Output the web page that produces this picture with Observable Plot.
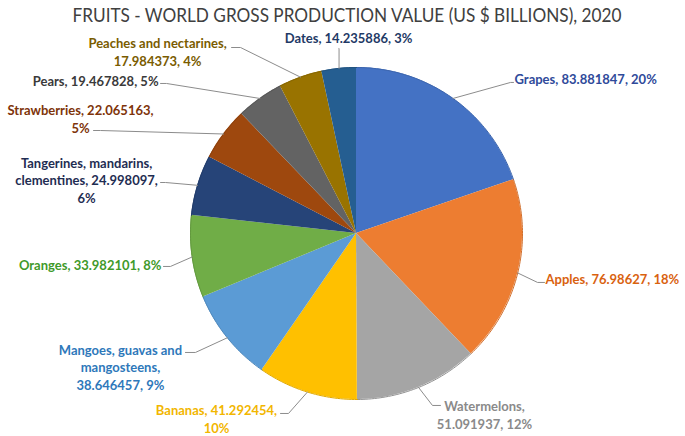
<!DOCTYPE html>
<html><head><meta charset="utf-8">
<script src="https://cdn.jsdelivr.net/npm/d3@7"></script>
<script src="https://cdn.jsdelivr.net/npm/@observablehq/plot@0.6"></script>
<style>
body{margin:0;background:#fff;width:685px;height:436px;overflow:hidden;}
#title{height:30px;width:685px;position:relative;}
#title span{position:absolute;left:347px;top:14px;transform:translate(-50%,-50%) scaleX(0.905);white-space:nowrap;font-family:Lato,sans-serif;font-size:19px;color:#404040;}
#chart svg{display:block;}
</style></head><body>
<div id="title"><span id="tt">FRUITS - WORLD GROSS PRODUCTION VALUE (US $ BILLIONS), 2020</span></div>
<div id="chart"></div>
<script>
// ---- data ----
const fruits = ["Grapes", "Apples", "Watermelons", "Bananas", "Mangoes, guavas and mangosteens", "Oranges", "Tangerines, mandarins, clementines", "Strawberries", "Pears", "Peaches and nectarines", "Dates"];
const values = [83.881847, 76.98627, 51.091937, 41.292454, 38.646457, 33.982101, 24.998097, 22.065163, 19.467828, 17.984373, 14.235886];
const valueLabels = ["83.881847", "76.98627", "51.091937", "41.292454", "38.646457", "33.982101", "24.998097", "22.065163", "19.467828", "17.984373", "14.235886"];
const percentLabels = ["20%", "18%", "12%", "10%", "9%", "8%", "6%", "5%", "5%", "4%", "3%"];

// ---- styles ----
const sliceColors = ["#4472C4", "#ED7D31", "#A5A5A5", "#FFC000", "#5B9BD5", "#70AD47", "#264478", "#9E480E", "#636363", "#997300", "#255E91"];
const labelColors = ["#2F4A9A", "#D9620F", "#8A8A8A", "#F2B600", "#2E78BA", "#3F9A2A", "#1F2D52", "#7E340A", "#3A3A3A", "#7A5C00", "#1F3A66"];

// ---- label layout (pixel offsets from the slice's outer mid-point) ----
const wrap = [[3], [3], [1, 2], [2, 1], [3, 1, 2], [3], [2, 2, 1], [2, 1], [3], [3, 2], [3]];
const anchors = ["start", "start", "middle", "middle", "middle", "end", "middle", "middle", "end", "middle", "middle"];
const textOffset = [[61.5, -20], [27.8, 5.5], [65.9, 27], [-90.9, 26.4], [-106.9, 28.7], [-30.7, 7.5], [-111.1, -5.8], [-143.1, -15.5], [-101.4, -18], [-143, -25.7], [9.5, -31]];
const elbowOffset = [[57.5, -16], [19.8, 9.5], [13.9, 18], [-18.9, 21.4], [-31.9, 14.7], [-21.7, 9.5], [-32.1, -2.8], [-123.1, -3.5], [-93.4, -15], [-60, -29.7], [0, -20]];
const endOffset = [[60.5, -16], [26.8, 9.5], [21.9, 18], [-26.9, 21.4], [-41.9, 14.7], [-28.7, 9.5], [-37.1, -2.8], [-130.1, -3.5], [-99.4, -15], [-69, -29.7], [0, -20]];

const W = 685, H = 406, CX = 356, CY = 203, R = 166;

const data = fruits.map((name, i) => ({name, value: values[i], i}));
const arcs = d3.pie().sort(null).value(d => d.value)(data);

// slice outlines
const slicePts = [];
arcs.forEach(a => {
  const n = Math.max(2, Math.ceil((a.endAngle - a.startAngle) / (Math.PI / 180)));
  for (let t = 0; t <= n; t++) {
    const ang = a.startAngle + (a.endAngle - a.startAngle) * t / n;
    slicePts.push({name: a.data.name, i: a.data.i, cx: 0, cy: 0, x: Math.sin(ang), y: Math.cos(ang)});
  }
});

// labels and leaders
const labels = [], leaders = [];
arcs.forEach(a => {
  const i = a.data.i;
  const mid = (a.startAngle + a.endAngle) / 2;
  const ex = Math.sin(mid), ey = Math.cos(mid);
  const tokens = `${fruits[i]}, ${valueLabels[i]}, ${percentLabels[i]}`.split(" ");
  const lines = []; let k = 0;
  wrap[i].forEach(c => { lines.push(tokens.slice(k, k + c).join(" ")); k += c; });
  labels.push({i, anchor: anchors[i], text: lines.join("\n"), x: ex + textOffset[i][0] / R, y: ey - textOffset[i][1] / R});
  leaders.push({i, x: ex, y: ey});
  leaders.push({i, x: ex + elbowOffset[i][0] / R, y: ey - elbowOffset[i][1] / R});
  leaders.push({i, x: ex + endOffset[i][0] / R, y: ey - endOffset[i][1] / R});
});

const textMark = anchor => Plot.text(labels.filter(d => d.anchor === anchor), {
  x: "x", y: "y", text: "text", fill: d => labelColors[d.i], textAnchor: anchor,
  fontFamily: "Lato, sans-serif", fontWeight: "bold", fontSize: 13, lineHeight: 1.35
});

const chart = Plot.plot({
  width: W, height: H, margin: 0,
  x: {domain: [-CX / R, (W - CX) / R], axis: null},
  y: {domain: [-(H - CY) / R, CY / R], axis: null},
  color: {type: "identity"},
  marks: [
    Plot.area(slicePts, {x1: "cx", y1: "cy", x2: "x", y2: "y", z: "name", fill: d => sliceColors[d.i], curve: "linear"}),
    Plot.line(slicePts, {x: "x", y: "y", z: "name", stroke: d => d3.color(sliceColors[d.i]).darker(0.35).formatHex(), strokeWidth: 1, curve: "linear"}),
    Plot.line(leaders, {x: "x", y: "y", z: "i", stroke: "#8C8C8C", strokeWidth: 1, curve: "linear"}),
    textMark("start"), textMark("middle"), textMark("end")
  ]
});
document.getElementById("chart").appendChild(chart);
</script>
</body></html>
